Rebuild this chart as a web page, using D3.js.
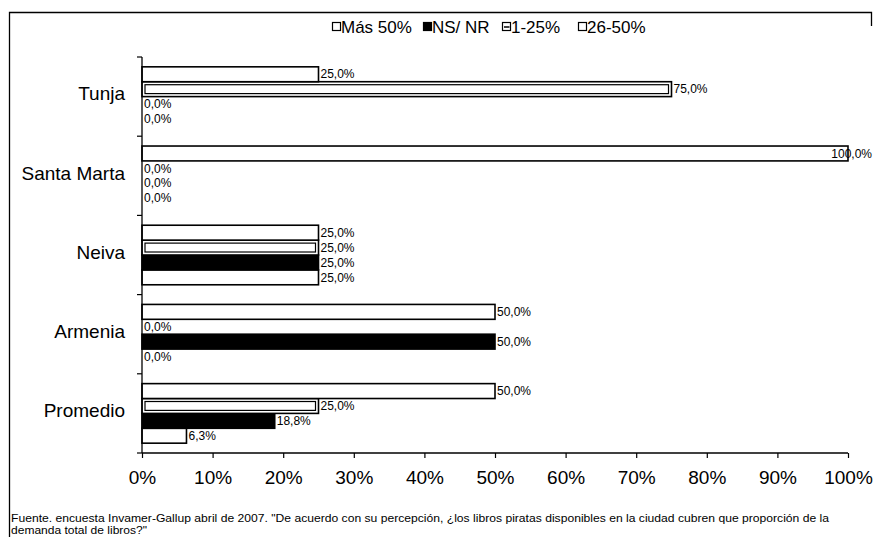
<!DOCTYPE html>
<html>
<head>
<meta charset="utf-8">
<script src="https://cdn.jsdelivr.net/npm/d3@7"></script>
<style>
  html, body { margin: 0; padding: 0; background: #fff; }
  svg { display: block; font-family: "Liberation Sans", Arial, sans-serif; }
</style>
</head>
<body>
<svg id="chart" width="873" height="537"></svg>
<script>
// Cities on the vertical axis, top to bottom
const categories = ["Tunja", "Santa Marta", "Neiva", "Armenia", "Promedio"];

// Share of respondents per answer, in percent
const mas50   = [0, 0, 25, 0, 6.3];
const nsnr    = [0, 0, 25, 50, 18.8];
const uno25   = [75, 0, 25, 0, 25];
const v26a50  = [25, 100, 25, 50, 50];

const seriesNames = ["Más 50%", "NS/ NR", "1-25%", "26-50%"];
const seriesValues = [mas50, nsnr, uno25, v26a50];

const xTicks = [0, 10, 20, 30, 40, 50, 60, 70, 80, 90, 100];

const footLines = [
  "Fuente. encuesta Invamer-Gallup abril de 2007. \"De acuerdo con su percepción, ¿los libros piratas disponibles en la ciudad cubren que proporción de la",
  "demanda total de libros?\""
];

const svg = d3.select("#chart");

// Outer frame (top and left edges are the visible ones)
svg.append("path")
  .attr("d", "M871.5,26 V12.5 H9.5 V537")
  .attr("fill", "none").attr("stroke", "#000").attr("stroke-width", 1.3);

const plot = { left: 142, right: 848, top: 57, bottom: 453 };

const x = d3.scaleLinear().domain([0, 100]).range([plot.left, plot.right]);
const y = d3.scaleBand().domain(categories).range([plot.top, plot.bottom]).padding(0);
// Series stacked inside each band: last series on top
const sub = d3.scaleBand()
  .domain(seriesNames.slice().reverse())
  .range([0, y.bandwidth()])
  .paddingInner(0)
  .paddingOuter(0.66);

const styles = {
  "Más 50%": { fill: "#fff", inner: false },
  "NS/ NR":  { fill: "#000", inner: false },
  "1-25%":   { fill: "#fff", inner: true },
  "26-50%":  { fill: "#fff", inner: false }
};

const rows = [];
seriesNames.forEach((s, si) => {
  categories.forEach((c, ci) => {
    rows.push({ series: s, cat: c, value: seriesValues[si][ci] });
  });
});

const fmt = v => d3.format(".1f")(v).replace(".", ",") + "%";

const bars = svg.append("g");
rows.filter(d => d.value > 0).forEach(d => {
  const by = y(d.cat) + sub(d.series);
  const bw = x(d.value) - x(0);
  const bh = sub.bandwidth();
  bars.append("rect")
    .attr("x", x(0)).attr("y", by)
    .attr("width", bw).attr("height", bh)
    .attr("fill", styles[d.series].fill)
    .attr("stroke", "#000").attr("stroke-width", 1.6);
  if (styles[d.series].inner) {
    bars.append("rect")
      .attr("x", x(0) + 3).attr("y", by + 3)
      .attr("width", Math.max(0, bw - 6)).attr("height", bh - 6)
      .attr("fill", "none").attr("stroke", "#000").attr("stroke-width", 1.2);
  }
});

// Value labels
const labels = svg.append("g")
  .attr("font-size", 12).attr("fill", "#000");
rows.forEach(d => {
  const t = labels.append("text")
    .attr("x", x(d.value) + 2)
    .attr("y", y(d.cat) + sub(d.series) + sub.bandwidth() / 2)
    .attr("dy", "0.35em")
    .text(fmt(d.value));
  const w = t.node().getComputedTextLength();
  if (x(d.value) + 2 + w > 872) {
    t.attr("x", 872).attr("text-anchor", "end");
  }
});

// Horizontal axis
const xAxis = d3.axisBottom(x).tickValues(xTicks).tickSize(5).tickFormat(d => d + "%");
const gx = svg.append("g")
  .attr("transform", `translate(0,${plot.bottom})`)
  .call(xAxis);
gx.select(".domain").attr("stroke", "#000").attr("stroke-width", 1.3)
  .attr("d", `M${plot.left},0H${plot.right}`);
gx.selectAll(".tick line").attr("stroke", "#000").attr("stroke-width", 1.2);
gx.selectAll(".tick text")
  .attr("font-size", 19).attr("font-family", "Liberation Sans, Arial, sans-serif")
  .attr("fill", "#000").attr("y", 18);

// Vertical axis with category labels
const yAxis = d3.axisLeft(y).tickSize(0).tickPadding(17);
const gy = svg.append("g")
  .attr("transform", `translate(${plot.left},0)`)
  .call(yAxis);
gy.select(".domain").attr("stroke", "#000").attr("stroke-width", 1.3)
  .attr("d", `M0,${plot.top}V${plot.bottom}`);
gy.selectAll(".tick text")
  .attr("font-size", 19).attr("font-family", "Liberation Sans, Arial, sans-serif")
  .attr("fill", "#000").attr("dy", "0.2em");
// Band boundary ticks on the vertical axis
const bounds = categories.map(c => y(c)).concat([plot.bottom]);
gy.selectAll("line.bound").data(bounds).enter().append("line")
  .attr("class", "bound")
  .attr("x1", -5).attr("x2", 0)
  .attr("y1", d => d).attr("y2", d => d)
  .attr("stroke", "#000").attr("stroke-width", 1.2);

// Legend
const legendPos = [332, 423, 502, 578];
const leg = svg.append("g").attr("font-size", 17).attr("fill", "#000");
seriesNames.forEach((s, i) => {
  const lx = legendPos[i], ly = 27;
  leg.append("rect")
    .attr("x", lx + 0.5).attr("y", ly - 4.5)
    .attr("width", 8).attr("height", 8)
    .attr("fill", styles[s].fill).attr("stroke", "#000").attr("stroke-width", 1.2);
  if (styles[s].inner) {
    leg.append("line")
      .attr("x1", lx + 2).attr("x2", lx + 7.5)
      .attr("y1", ly).attr("y2", ly)
      .attr("stroke", "#000").attr("stroke-width", 1.5);
  }
  leg.append("text")
    .attr("x", lx + 9).attr("y", ly).attr("dy", "0.35em")
    .text(s);
});

// Source note
const foot = svg.append("g").attr("font-size", 11.5).attr("fill", "#000");
const footWidths = [818, 136];
footLines.forEach((line, i) => {
  foot.append("text")
    .attr("x", 11).attr("y", 522 + i * 11.5)
    .attr("textLength", footWidths[i])
    .attr("lengthAdjust", "spacingAndGlyphs")
    .text(line);
});
</script>
</body>
</html>
